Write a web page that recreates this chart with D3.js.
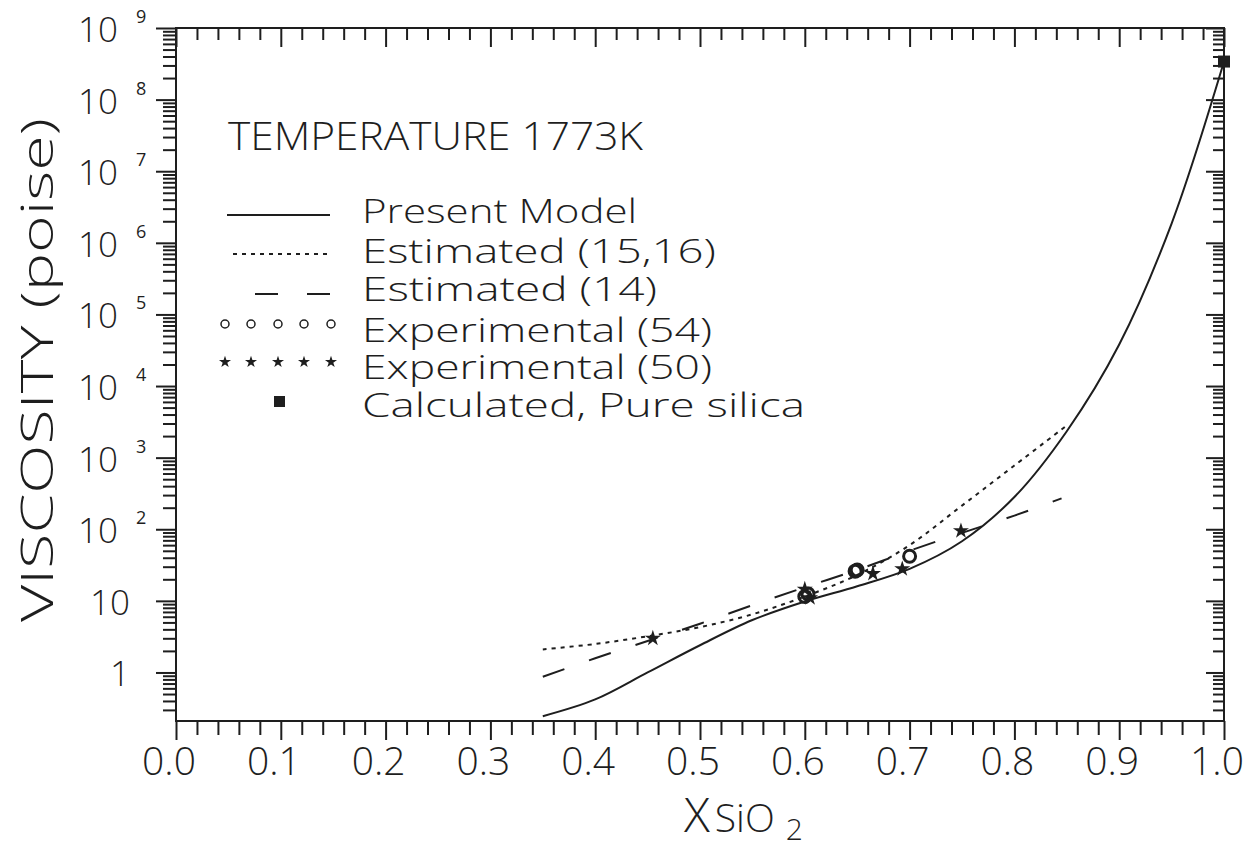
<!DOCTYPE html>
<html>
<head>
<meta charset="utf-8">
<script src="https://cdn.jsdelivr.net/npm/d3@7"></script>
<style>
    body { margin: 0; background: #fff; }
    svg text { font-family: "Open Sans", "DejaVu Sans", sans-serif; font-weight: 300; fill: #1e1e1e; }
    .axis path, .axis line { stroke: #1e1e1e; stroke-width: 2; }
    .curve { fill: none; stroke: #1e1e1e; stroke-width: 2; }
</style>
</head>
<body>
<div id="vis"></div>
<script>
// Data (x = mole fraction SiO2, viscosity in poise)
var modelX    = [0.35, 0.40, 0.45, 0.50, 0.55, 0.60, 0.65, 0.70, 0.75, 0.80, 0.85, 0.90, 0.95, 1.00];
var modelV    = [0.245, 0.42, 1.0, 2.4, 5.4, 9.8, 16, 28, 68, 282, 2340, 38000, 1.86e6, 3.4e8];

var est1516X  = [0.35, 0.40, 0.45, 0.50, 0.55, 0.60, 0.65, 0.70, 0.75, 0.80, 0.85];
var est1516V  = [2.1, 2.5, 3.2, 4.3, 6.5, 11.5, 23, 60, 214, 776, 2820];

var est14X    = [0.35, 0.40, 0.45, 0.50, 0.55, 0.60, 0.65, 0.70, 0.75, 0.80, 0.845];
var est14V    = [0.87, 1.58, 2.75, 4.8, 8.7, 15.5, 27, 50, 89, 155, 270];

var exp54X    = [0.600, 0.603, 0.648, 0.650, 0.700];
var exp54V    = [11.5, 12.5, 26, 27, 42];

var exp50X    = [0.455, 0.600, 0.605, 0.665, 0.693, 0.749];
var exp50V    = [3.0, 14.5, 11, 24, 28, 95];

var silicaX   = [1.0];
var silicaV   = [3.4e8];

var xTickLabels = ["0.0", "0.1", "0.2", "0.3", "0.4", "0.5", "0.6", "0.7", "0.8", "0.9", "1.0"];
var yDecades    = [0, 1, 2, 3, 4, 5, 6, 7, 8, 9];

var legendLabels = ["Present Model", "Estimated (15,16)", "Estimated (14)",
                    "Experimental (54)", "Experimental (50)", "Calculated, Pure silica"];
var legendWidths = [275, 354, 295, 350, 350, 443];

// Set global sizes
var width = 1253,
    height = 848,
    margin = { top: 28, right: 29, bottom: 127, left: 176 };

var svg = d3.select("#vis").append("svg")
    .attr("width", width)
    .attr("height", height);

var x = d3.scaleLinear()
    .domain([0, 1])
    .range([margin.left, width - margin.right]);

var y = d3.scaleLog()
    .domain([0.21, 1e9])
    .range([height - margin.bottom, margin.top]);

// tick values
var xMajor = d3.range(0, 11).map(function(i) { return i / 10; });
var xMinor = d3.range(0, 51).map(function(i) { return i / 50; })
    .filter(function(d) { return Math.round(d * 50) % 5 !== 0; });

var yMajor = yDecades.map(function(e) { return Math.pow(10, e); });
var yMinor = [];
for (var e = -1; e < 9; e++) {
    for (var k = 2; k < 10; k++) {
        var v = k * Math.pow(10, e);
        if (v >= 0.21 && v <= 1e9) yMinor.push(v);
    }
}

var x0 = x.range()[0], x1 = x.range()[1];
var y0 = y.range()[0], y1 = y.range()[1];

// frame
svg.append("rect")
    .attr("x", x0).attr("y", y1)
    .attr("width", x1 - x0).attr("height", y0 - y1)
    .attr("fill", "none").attr("stroke", "#1e1e1e").attr("stroke-width", 2);

function addAxis(axis, tx, ty) {
    var g = svg.append("g")
        .attr("class", "axis")
        .attr("transform", "translate(" + tx + "," + ty + ")")
        .call(axis);
    g.select(".domain").remove();
    g.selectAll("text").remove();
    return g;
}

// bottom (ticks outward) and top (ticks inward)
addAxis(d3.axisBottom(x).tickValues(xMinor).tickSize(14), 0, y0);
addAxis(d3.axisBottom(x).tickValues(xMajor).tickSize(19), 0, y0);
addAxis(d3.axisTop(x).tickValues(xMinor).tickSize(-12), 0, y1);
addAxis(d3.axisTop(x).tickValues(xMajor).tickSize(-19), 0, y1);

// left (outward) and right (inward)
addAxis(d3.axisLeft(y).tickValues(yMinor).tickSize(13), x0, 0);
addAxis(d3.axisLeft(y).tickValues(yMajor).tickSize(20), x0, 0);
addAxis(d3.axisRight(y).tickValues(yMinor).tickSize(-11), x1, 0);
addAxis(d3.axisRight(y).tickValues(yMajor).tickSize(-18), x1, 0);

// x tick labels
svg.append("g").selectAll("text")
    .data(xTickLabels)
    .enter().append("text")
    .attr("x", function(d) { return x(+d) - 7; })
    .attr("y", y0 + 54)
    .attr("text-anchor", "middle")
    .style("font-size", "39px")
    .text(function(d) { return d; });

// y tick labels, 10 with superscript exponent
var yl = svg.append("g").selectAll("g")
    .data(yDecades)
    .enter().append("g");

yl.append("text")
    .attr("x", function(e) { return e < 2 ? 130 : 118; })
    .attr("y", function(e) { return y(Math.pow(10, e)) + 14; })
    .attr("text-anchor", "end")
    .style("font-size", "35px")
    .text(function(e) { return e === 0 ? "1" : "10"; });

yl.filter(function(e) { return e >= 2; }).append("text")
    .attr("x", 136)
    .attr("y", function(e) { return y(Math.pow(10, e)) - 5; })
    .style("font-size", "18px")
    .style("font-weight", 400)
    .text(function(e) { return e; });

// axis titles
svg.append("text")
    .attr("transform", "translate(53,370) rotate(-90)")
    .attr("text-anchor", "middle")
    .attr("textLength", 504)
    .attr("lengthAdjust", "spacingAndGlyphs")
    .style("font-size", "45px")
    .text("VISCOSITY (poise)");

var xt = svg.append("text").attr("x", 684).attr("y", 832);
xt.append("tspan").style("font-size", "48px").text("X");
xt.append("tspan").style("font-size", "39px").attr("dx", 5).text("SiO");
xt.append("tspan").style("font-size", "30px").attr("dx", 11).attr("dy", 8).text("2");

// curves
var line = d3.line()
    .x(function(d) { return x(d[0]); })
    .y(function(d) { return y(d[1]); })
    .curve(d3.curveCatmullRom.alpha(0.5));

function pairs(xs, vs) { return xs.map(function(d, i) { return [d, vs[i]]; }); }

svg.append("path").attr("class", "curve")
    .attr("d", line(pairs(modelX, modelV)));

svg.append("path").attr("class", "curve")
    .attr("stroke-dasharray", "4,5")
    .attr("d", line(pairs(est1516X, est1516V)));

svg.append("path").attr("class", "curve")
    .attr("stroke-dasharray", "23,26")
    .attr("d", line(pairs(est14X, est14V)));

// experimental points
svg.append("g").selectAll("circle")
    .data(pairs(exp54X, exp54V))
    .enter().append("circle")
    .attr("cx", function(d) { return x(d[0]); })
    .attr("cy", function(d) { return y(d[1]); })
    .attr("r", 6)
    .attr("fill", "none")
    .attr("stroke", "#1e1e1e")
    .attr("stroke-width", 3);

var star = d3.symbol().type(d3.symbolStar);

svg.append("g").selectAll("path")
    .data(pairs(exp50X, exp50V))
    .enter().append("path")
    .attr("transform", function(d) { return "translate(" + x(d[0]) + "," + y(d[1]) + ")"; })
    .attr("d", star.size(80)())
    .attr("fill", "#1e1e1e");

svg.append("g").selectAll("rect")
    .data(pairs(silicaX, silicaV))
    .enter().append("rect")
    .attr("x", function(d) { return x(d[0]) - 6; })
    .attr("y", function(d) { return y(d[1]) - 6; })
    .attr("width", 12).attr("height", 12)
    .attr("fill", "#1e1e1e");

// temperature note
svg.append("text")
    .attr("x", 228).attr("y", 150)
    .attr("textLength", 415)
    .attr("lengthAdjust", "spacingAndGlyphs")
    .style("font-size", "38px")
    .text("TEMPERATURE 1773K");

// legend
var rowY = [211, 251, 289, 330, 367, 405];
var legend = svg.append("g").attr("class", "legend");

legend.selectAll("text")
    .data(legendLabels)
    .enter().append("text")
    .attr("x", 362)
    .attr("y", function(d, i) { return rowY[i] + 12; })
    .attr("textLength", function(d, i) { return legendWidths[i]; })
    .attr("lengthAdjust", "spacingAndGlyphs")
    .style("font-size", "33px")
    .text(function(d) { return d; });

legend.append("line").attr("class", "curve")
    .attr("x1", 227).attr("x2", 330).attr("y1", rowY[0] + 4).attr("y2", rowY[0] + 4);
legend.append("line").attr("class", "curve")
    .attr("stroke-dasharray", "4,5")
    .attr("x1", 233).attr("x2", 330).attr("y1", rowY[1] + 3).attr("y2", rowY[1] + 3);
legend.append("line").attr("class", "curve")
    .attr("stroke-dasharray", "23,29")
    .attr("x1", 255).attr("x2", 330).attr("y1", rowY[2] + 5).attr("y2", rowY[2] + 5);

var symX = [225, 251, 278, 304, 331];
legend.selectAll(".lc")
    .data(symX)
    .enter().append("circle")
    .attr("cx", function(d) { return d; })
    .attr("cy", rowY[3] - 6)
    .attr("r", 4)
    .attr("fill", "none")
    .attr("stroke", "#1e1e1e")
    .attr("stroke-width", 1.5);

legend.selectAll(".ls")
    .data(symX)
    .enter().append("path")
    .attr("transform", function(d) { return "translate(" + d + "," + (rowY[4] - 5) + ")"; })
    .attr("d", star.size(45)())
    .attr("fill", "#1e1e1e");

legend.append("rect")
    .attr("x", 274).attr("y", rowY[5] - 9)
    .attr("width", 11).attr("height", 11)
    .attr("fill", "#1e1e1e");
</script>
</body>
</html>
